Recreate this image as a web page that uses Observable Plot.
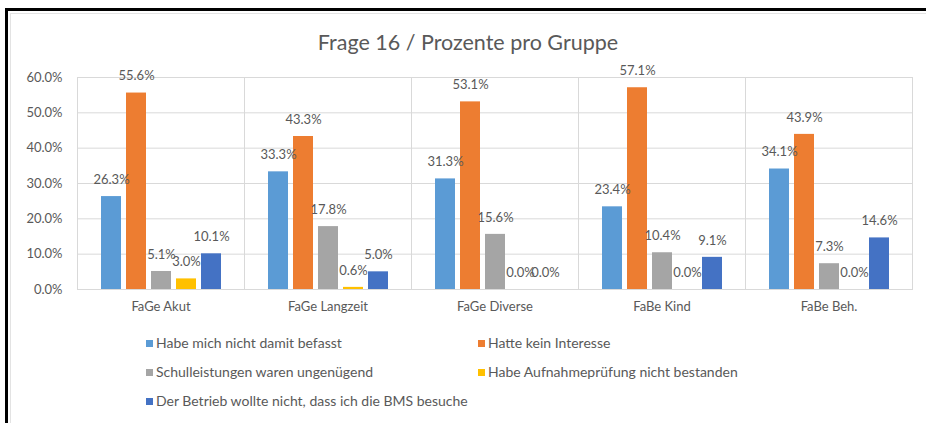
<!DOCTYPE html>
<html>
<head>
<meta charset="utf-8">
<script src="https://cdn.jsdelivr.net/npm/d3@7"></script>
<script src="https://cdn.jsdelivr.net/npm/@observablehq/plot@0.6"></script>
<style>
  html, body { margin: 0; padding: 0; background: #fff; }
  body { width: 926px; height: 423px; position: relative; overflow: hidden; font-family: Lato, "Open Sans", sans-serif; color: #595959; }
  #frame { position: absolute; left: 5px; top: 8px; right: -10px; bottom: -10px; border-left: 3px solid #000; border-top: 3px solid #000; }
  #sheet { position: absolute; left: 10px; top: 13px; right: 0; bottom: 0; border-left: 1px solid #e3e3e3; border-top: 1px solid #e3e3e3; }
  #title { position: absolute; left: 0; width: 936px; top: 28px; text-align: center; font-size: 21.5px; line-height: 28px; color: #595959; }
  #chart { position: absolute; left: 0; top: 60px; }
  .leg { position: absolute; font-size: 14px; line-height: 16px; color: #595959; white-space: nowrap; }
  .leg span.sw { display: inline-block; width: 7px; height: 7px; margin-right: 3px; vertical-align: 1px; }
</style>
</head>
<body>
<div id="frame"></div>
<div id="sheet"></div>
<div id="title">Frage 16 / Prozente pro Gruppe</div>
<div id="chart"></div>
<div id="legend"></div>
<script>
const groups = ["FaGe Akut", "FaGe Langzeit", "FaGe Diverse", "FaBe Kind", "FaBe Beh."];
const seriesNames = [
  "Habe mich nicht damit befasst",
  "Hatte kein Interesse",
  "Schulleistungen waren ungenügend",
  "Habe Aufnahmeprüfung nicht bestanden",
  "Der Betrieb wollte nicht, dass ich die BMS besuche"
];
const colors = ["#5b9bd5", "#ed7d31", "#a5a5a5", "#ffc000", "#4472c4"];
const befasst = [26.3, 33.3, 31.3, 23.4, 34.1];
const interesse = [55.6, 43.3, 53.1, 57.1, 43.9];
const schulleistungen = [5.1, 17.8, 15.6, 10.4, 7.3];
const aufnahme = [3.0, 0.6, 0.0, 0.0, 0.0];
const betrieb = [10.1, 5.0, 0.0, 9.1, 14.6];
const yTicks = [0, 0.1, 0.2, 0.3, 0.4, 0.5, 0.6];

const seriesValues = [befasst, interesse, schulleistungen, aufnahme, betrieb];
const data = [];
groups.forEach((g, i) => {
  seriesNames.forEach((s, j) => {
    data.push({group: g, series: s, value: seriesValues[j][i] / 100});
  });
});

const fmt = d => (d * 100).toFixed(1) + "%";
const grid = "#d9d9d9";

const chart = Plot.plot({
  width: 926,
  height: 265,
  marginLeft: 75,
  marginRight: 12,
  marginTop: 17,
  marginBottom: 36,
  style: {fontFamily: "Lato, 'Open Sans', sans-serif", fontSize: "13px", color: "#595959", background: "transparent"},
  fx: {domain: groups, padding: 0, label: null, axis: "bottom", tickSize: 0, tickPadding: 12},
  x: {domain: seriesNames, axis: null, paddingInner: 0.22, paddingOuter: 0.85},
  y: {domain: [0, 0.6], ticks: yTicks, tickFormat: fmt, tickSize: 0, tickPadding: 15, label: null},
  color: {domain: seriesNames, range: colors},
  marks: [
    Plot.gridY(yTicks, {stroke: grid, strokeOpacity: 1}),
    Plot.frame({anchor: "left", stroke: grid, strokeOpacity: 1}),
    Plot.frame({anchor: "right", stroke: grid, strokeOpacity: 1}),
    Plot.barY(data, {fx: "group", x: "series", y: "value", fill: "series"}),
    Plot.text(data, {fx: "group", x: "series", y: "value", text: d => fmt(d.value), dy: -17, fill: "#595959", fontSize: 13})
  ]
});
document.getElementById("chart").appendChild(chart);

const legendPos = [[146, 343], [478, 343], [146, 372], [478, 372], [146, 401]];
const legend = document.getElementById("legend");
seriesNames.forEach((s, j) => {
  const el = document.createElement("div");
  el.className = "leg";
  el.style.left = legendPos[j][0] + "px";
  el.style.top = (legendPos[j][1] - 8) + "px";
  el.innerHTML = `<span class="sw" style="background:${colors[j]}"></span>` + s;
  legend.appendChild(el);
});
</script>
</body>
</html>
